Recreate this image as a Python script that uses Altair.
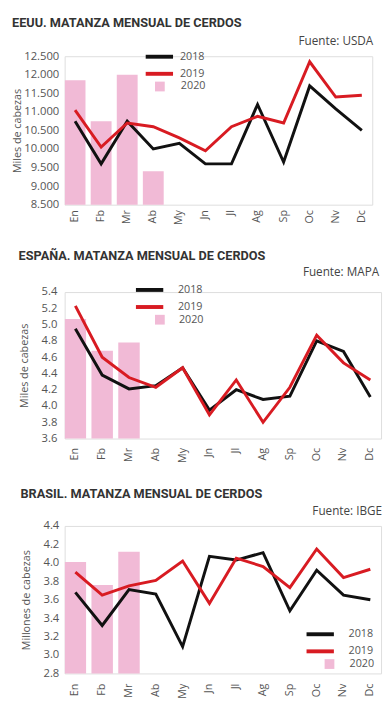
import altair as alt
import pandas as pd

months = ["En", "Fb", "Mr", "Ab", "My", "Jn", "Jl", "Ag", "Sp", "Oc", "Nv", "Dc"]

# EEUU (miles de cabezas)
us_2018 = [10750, 9600, 10750, 10000, 10150, 9600, 9600, 11200, 9650, 11700, 11080, 10500]
us_2019 = [11050, 10050, 10700, 10600, 10300, 9950, 10600, 10880, 10700, 12350, 11400, 11450]
us_2020 = [11850, 10750, 12000, 9400]

# España
es_2018 = [4.95, 4.38, 4.21, 4.25, 4.47, 3.95, 4.20, 4.08, 4.12, 4.80, 4.67, 4.11]
es_2019 = [5.23, 4.60, 4.35, 4.23, 4.47, 3.89, 4.32, 3.80, 4.23, 4.87, 4.53, 4.32]
es_2020 = [5.07, 4.68, 4.78]

# Brasil (millones de cabezas)
br_2018 = [3.68, 3.32, 3.71, 3.66, 3.09, 4.07, 4.03, 4.11, 3.48, 3.92, 3.65, 3.60]
br_2019 = [3.90, 3.65, 3.75, 3.81, 4.02, 3.56, 4.05, 3.96, 3.73, 4.15, 3.84, 3.93]
br_2020 = [4.01, 3.76, 4.12]

years_lines = ["2018", "2019"]
year_bar = "2020"

BLACK = "#111111"
RED = "#d81b22"
PINK = "#f1bad6"
GREY = "#555555"
FONT = "Open Sans"
TFONT = "Roboto"


def panel(v18, v19, v20, title, source, ytitle, ydomain, yvalues, ylabelexpr,
          width, height, lab_pad, title_pad, xlab_pad, src_dx, src_y, t_off,
          lx, ly, lo_st, qx, qy, lo_sq):
    lines = pd.DataFrame({
        "Mes": months * 2,
        "Año": [years_lines[0]] * 12 + [years_lines[1]] * 12,
        "Valor": v18 + v19,
    })
    bars = pd.DataFrame({
        "Mes": months[:len(v20)],
        "Año": [year_bar] * len(v20),
        "Valor": v20,
    })
    xenc = alt.X(
        "Mes:N", sort=months, title=None,
        scale=alt.Scale(domain=months, paddingInner=0.2, paddingOuter=0),
        axis=alt.Axis(labelAngle=270, labelPadding=xlab_pad, labelFont=FONT,
                      labelFontSize=11, labelColor=GREY, domain=False,
                      ticks=False, grid=False),
    )
    yenc = alt.Y(
        "Valor:Q", title=ytitle,
        scale=alt.Scale(domain=ydomain, zero=False, nice=False),
        axis=alt.Axis(values=yvalues, labelExpr=ylabelexpr, labelFont=FONT,
                      labelFontSize=11.5, labelColor=GREY, labelPadding=lab_pad,
                      titleFont=FONT, titleFontSize=11, titleColor=GREY,
                      titleFontWeight="normal", titlePadding=title_pad,
                      domain=False, ticks=False, grid=False),
    )
    bar = alt.Chart(bars).mark_bar(clip=True).encode(
        x=xenc, y=yenc,
        fill=alt.Fill("Año:N", scale=alt.Scale(domain=[year_bar], range=[PINK]),
                      legend=alt.Legend(orient="none", legendX=qx, legendY=qy,
                                        title=None, symbolType="square",
                                        symbolSize=100, symbolStrokeWidth=0,
                                        labelFont=FONT, labelFontSize=11,
                                        labelColor=GREY, labelOffset=lo_sq,
                                        padding=0)),
    )
    line = alt.Chart(lines).mark_line(strokeWidth=3).encode(
        x=xenc, y=yenc,
        stroke=alt.Stroke("Año:N", scale=alt.Scale(domain=years_lines, range=[BLACK, RED]),
                          legend=alt.Legend(orient="none", legendX=lx, legendY=ly,
                                            title=None, symbolType="M-3.5,0H3.5",
                                            symbolSize=64, symbolStrokeWidth=4,
                                            labelFont=FONT, labelFontSize=11,
                                            labelColor=GREY, labelOffset=lo_st,
                                            rowPadding=1.5, padding=0)),
    )
    src = alt.Chart(pd.DataFrame({"t": [source]})).mark_text(
        align="right", baseline="middle", font=FONT, fontSize=12, color="#444444"
    ).encode(text="t:N", x=alt.value(width + src_dx), y=alt.value(src_y))
    return alt.layer(bar, line, src).properties(
        width=width, height=height,
        title=alt.TitleParams(title, anchor="start", frame="bounds", font=TFONT,
                              fontSize=13, fontWeight="bold", color="#333333",
                              offset=t_off),
    )


thousands = "replace(format(datum.value, ',.0f'), ',', '.')"
onedec = "format(datum.value, '.1f')"

p1 = panel(us_2018, us_2019, us_2020, "EEUU. MATANZA MENSUAL DE CERDOS", "Fuente: USDA",
           "Miles de cabezas", [8500, 12500], [8500 + 500 * i for i in range(9)],
           thousands, 315, 152, 6, 1, 5, 1, -15, 6,
           91, -5.5, 15, 92, 25.5, 16)
p2 = panel(es_2018, es_2019, es_2020, "ESPAÑA. MATANZA MENSUAL DE CERDOS", "Fuente: MAPA",
           "Miles de cabezas", [3.6, 5.4], [3.6 + 0.2 * i for i in range(10)],
           onedec, 324, 150, 8, 12, 9, -2, -20, 4.2,
           81, -8.2, 23, 92, 22.8, 14)
p3 = panel(br_2018, br_2019, br_2020, "BRASIL. MATANZA MENSUAL DE CERDOS", "Fuente: IBGE",
           "Millones de cabezas", [2.8, 4.4], [2.8 + 0.2 * i for i in range(9)],
           onedec, 324, 151, 6, 12, 10, 1, -15, 5.1,
           255.7, 104.9, 23, 265.7, 135.9, 15)

chart = alt.vconcat(p1, p2, p3, spacing=24.5).resolve_scale(
    fill="independent", stroke="independent"
).properties(
    padding={"left": 3, "top": 0, "right": 0, "bottom": 0}
).configure_view(stroke=None).configure(background="white")

chart.save("out.html", embed_options={"renderer": "svg", "actions": False})
